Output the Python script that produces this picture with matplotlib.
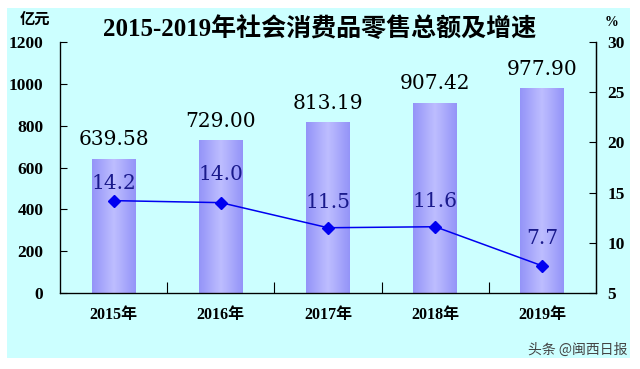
import numpy as np
import matplotlib
matplotlib.use('Agg')
import matplotlib.pyplot as plt
from matplotlib.patches import Rectangle
from matplotlib.colors import LinearSegmentedColormap

# ── 数据 ──
years = ['2015年', '2016年', '2017年', '2018年', '2019年']
sales = [639.58, 729.00, 813.19, 907.42, 977.90]   # 亿元
growth = [14.2, 14.0, 11.5, 11.6, 7.7]             # %
growth_offsets = [12, 20, 18, 18, 20]              # 标签离点的距离 (pt)

serif_cn = ['Liberation Serif', 'Noto Sans CJK SC']
plt.rcParams['font.family'] = serif_cn
plt.rcParams['axes.unicode_minus'] = False

fig = plt.figure(figsize=(6.4, 3.69), dpi=100, facecolor='white')
fig.patches.append(Rectangle((7/640, 11/369), 623/640, 350/369, transform=fig.transFigure,
                             facecolor='#CCFFFF', edgecolor='none', zorder=-10))

ax = fig.add_axes([60/640, 76/369, 536/640, 251/369])
ax.set_facecolor('none')
x = np.arange(len(years))
bars = ax.bar(x, sales, width=0.41, color='none', edgecolor='none', zorder=2)

# 柱子渐变填充：两侧深、中间浅
grad = np.abs(np.linspace(-1, 1, 64))[None, :]
cm = LinearSegmentedColormap.from_list('bar', ['#BDBDFF', '#9494F8'])
for b in bars:
    x0, w, h = b.get_x(), b.get_width(), b.get_height()
    ax.imshow(grad, extent=[x0, x0 + w, 0, h], aspect='auto', cmap=cm, zorder=2)
    ax.annotate(f'{h:.2f}', (x0 + w/2, h), xytext=(0, 7), textcoords='offset points',
                ha='center', va='bottom', fontsize=14.5, family='DejaVu Serif', color='black')

ax.set_xlim(-0.5, len(years) - 0.5)
ax.set_ylim(0, 1200)
ax.set_yticks(range(0, 1201, 200))
ax.set_xticks(x)
ax.set_xticklabels(years, fontsize=11.5, fontweight='bold')
ax.tick_params(axis='x', length=0, pad=10)
ax.set_xticks(x[:-1] + 0.5, minor=True)
ax.tick_params(axis='x', which='minor', direction='in', length=8, width=0.8)
ax.tick_params(axis='y', direction='in', length=5, width=0.8, labelsize=12.5, pad=12)
for lbl in ax.get_yticklabels():
    lbl.set_fontweight('bold')
ax.spines['top'].set_visible(False)
for s in ['left', 'bottom', 'right']:
    ax.spines[s].set_linewidth(0.9)

# 增速折线（右轴）
ax2 = ax.twinx()
ax2.plot(x, growth, color='#0000F0', lw=1.1, marker='D', markersize=6, zorder=5)
ax2.set_ylim(5, 30)
ax2.set_yticks(range(5, 31, 5))
ax2.tick_params(axis='y', direction='in', length=5, width=0.8, labelsize=12.5, pad=8)
for lbl in ax2.get_yticklabels():
    lbl.set_fontweight('bold')
ax2.spines['top'].set_visible(False)
ax2.spines['right'].set_linewidth(0.9)
for xi, g, off in zip(x, growth, growth_offsets):
    ax2.annotate(f'{g:.1f}', (xi, g), xytext=(0, off), textcoords='offset points',
                 ha='center', va='center', fontsize=14.5, family='DejaVu Serif', color='#1A1A8C')

fig.text(0.5, 1 - 29/369, '2015-2019年社会消费品零售总额及增速', ha='center', va='center',
         fontsize=18, fontweight='bold')
fig.text(35/640, 1 - 20/369, '亿元', ha='center', va='center', fontsize=11, fontweight='bold')
fig.text(611/640, 1 - 22/369, '%', ha='center', va='center', fontsize=10, fontweight='bold')
fig.text(628/640, 1 - 350/369, '头条 @闽西日报', ha='right', va='center', fontsize=10,
         family=['Noto Sans CJK SC'], color='#444444')

fig.savefig('out.png', dpi=100, facecolor='white')
